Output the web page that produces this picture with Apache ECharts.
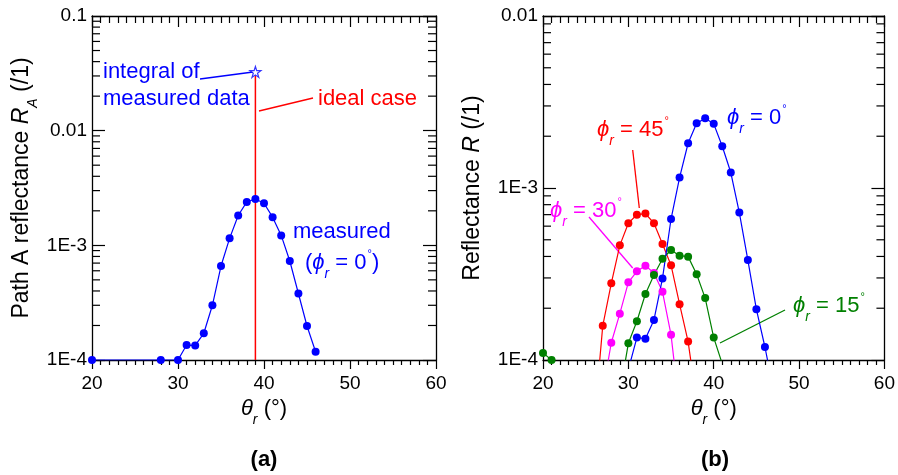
<!DOCTYPE html>
<html lang="en">
<head>
    <meta charset="UTF-8">
    <title>Path A reflectance</title>
    <script src="https://cdn.jsdelivr.net/npm/echarts@6/dist/echarts.min.js"></script>
    <style>
        *{
            padding: 0;
            margin: 0;
        }
        #chart{
            width: 898px;
            height: 475px;
            background: #ffffff;
        }
    </style>
</head>
<body>
<div id="chart"></div>
<script>
    // ---- data ----
    // (a) measured path A reflectance, phi_r = 0
    var thetaA = [20, 28, 30, 31, 32, 33, 34, 35, 36, 37, 38, 39, 40, 41, 42, 43, 44, 45, 46];
    var measA = [1e-4, 1e-4, 1e-4, 1.35e-4, 1.34e-4, 1.71e-4, 3.0e-4, 6.6e-4, 1.15e-3, 1.82e-3, 2.39e-3, 2.54e-3,
        2.33e-3, 1.76e-3, 1.22e-3, 7.3e-4, 3.8e-4, 1.98e-4, 1.18e-4];
    // ideal case line and integral star
    var idealTheta = [39, 39];
    var idealVal = [1e-4, 0.030];
    var integralTheta = [39];
    var integralVal = [0.0325];

    // (b) reflectance for each phi_r
    var theta0 = [30, 31, 32, 33, 34, 35, 36, 37, 38, 39, 40, 41, 42, 43, 44, 45, 46, 47];
    var phi0 = [8.8e-5, 1.35e-4, 1.33e-4, 1.71e-4, 2.98e-4, 6.6e-4, 1.15e-3, 1.82e-3, 2.38e-3, 2.54e-3,
        2.36e-3, 1.75e-3, 1.23e-3, 7.2e-4, 3.81e-4, 1.97e-4, 1.19e-4, 6.7e-5];
    var theta45 = [26, 27, 28, 29, 30, 31, 32, 33, 34, 35, 36, 37, 38];
    var phi45 = [4.3e-5, 1.58e-4, 2.79e-4, 4.64e-4, 6.24e-4, 7.0e-4, 7.1e-4, 6.24e-4, 4.72e-4, 3.56e-4, 2.11e-4, 1.28e-4, 5.7e-5];
    var theta30 = [27, 28, 29, 30, 31, 32, 33, 34, 35, 36];
    var phi30 = [6.5e-5, 1.26e-4, 1.86e-4, 2.83e-4, 3.28e-4, 3.53e-4, 3.21e-4, 2.49e-4, 1.40e-4, 5.2e-5];
    var theta15 = [20, 21, 29, 30, 31, 32, 33, 34, 35, 36, 37, 38, 39, 40, 41];
    var phi15 = [1.1e-4, 1.0e-4, 6.4e-5, 1.25e-4, 1.68e-4, 2.42e-4, 3.12e-4, 3.88e-4, 4.36e-4, 4.04e-4, 3.99e-4,
        3.15e-4, 2.29e-4, 1.35e-4, 9.5e-5];

    // tick labels
    var yTickExp = [-1, -2, -3, -4];
    var yTickText = ['0.1', '0.01', '1E-3', '1E-4'];

    var FONT = '"Liberation Sans", Arial, Helvetica, sans-serif';
    var BLUE = '#0000ff', RED = '#ff0000', MAG = '#ff00ff', GREEN = '#008000';

    function pairs(xs, ys) {
        return xs.map(function (x, i) { return [x, ys[i]]; });
    }

    // log minor tick positions 2..9 in each decade
    function minorTicks(lo, hi) {
        var out = [];
        for (var e = lo; e < hi; e++) {
            for (var m = 2; m <= 9; m++) out.push([20, m * Math.pow(10, e)]);
        }
        return out;
    }

    function yLabel(v) {
        var e = Math.round(Math.log10(v));
        var i = yTickExp.indexOf(e);
        return i >= 0 ? yTickText[i] : '';
    }

    // rich styles, key = 'color' for axis names, 'fill' for graphic texts
    function rich(col, key, size) {
        size = size || 22;
        function st(o) { o[key] = col; o.fontFamily = FONT; return o; }
        return {
            i: st({fontSize: size, fontStyle: 'italic', lineHeight: 36}),
            s: st({fontSize: 14, fontStyle: 'italic', lineHeight: 14, verticalAlign: 'bottom'}),
            n: st({fontSize: size, lineHeight: 36}),
            d: st({fontSize: 11, lineHeight: 11, verticalAlign: 'top', padding: [3, 0, 0, 1]})
        };
    }

    function xAx(grid, top) {
        return {
            type: 'value', gridIndex: grid, position: top ? 'top' : 'bottom',
            min: 20, max: 60, interval: 10, z: 3,
            axisLine: {show: true, onZero: false, lineStyle: {color: '#000', width: 1.3}},
            axisTick: {show: true, inside: top, length: top ? 11 : 9, lineStyle: {color: '#000', width: 1.2}},
            minorTick: {show: true, splitNumber: 10, length: top ? 7 : 5, lineStyle: {color: '#000', width: 1.2}},
            axisLabel: {show: !top, margin: 14, fontSize: 19, fontFamily: FONT, color: '#000'},
            splitLine: {show: false},
            name: top ? '' : '{i|θ}{s|r}{n| (°)}',
            nameLocation: 'middle', nameGap: 31,
            nameTextStyle: {rich: rich('#000', 'color')}
        };
    }

    function yAx(grid, right, max, title) {
        return {
            type: 'log', logBase: 10, gridIndex: grid, position: right ? 'right' : 'left',
            min: 1e-4, max: max,
            axisLine: {show: true, onZero: false, lineStyle: {color: '#000', width: 1.3}},
            axisTick: {show: true, inside: true, length: 13, lineStyle: {color: '#000', width: 1.2}},
            axisLabel: {show: !right, margin: 5, fontSize: 19, fontFamily: FONT, color: '#000',
                formatter: yLabel, showMinLabel: true, showMaxLabel: true},
            splitLine: {show: false},
            name: right ? '' : title,
            nameLocation: 'middle', nameGap: 52, nameRotate: 90,
            nameTextStyle: {rich: rich('#000', 'color', 23)}
        };
    }

    function minorSeries(xi, yi, hiExp) {
        return {
            type: 'custom', xAxisIndex: xi, yAxisIndex: yi, silent: true,
            data: minorTicks(-4, hiExp), encode: {x: 0, y: 1},
            renderItem: function (params, api) {
                var y = api.coord([api.value(0), api.value(1)])[1];
                var cs = params.coordSys;
                var st = {stroke: '#000', lineWidth: 1.2};
                return {
                    type: 'group', children: [
                        {type: 'line', shape: {x1: cs.x, y1: y, x2: cs.x + 8, y2: y}, style: st},
                        {type: 'line', shape: {x1: cs.x + cs.width - 8, y1: y, x2: cs.x + cs.width, y2: y}, style: st}
                    ]
                };
            }
        };
    }

    function lineSeries(xi, yi, data, col) {
        return {
            type: 'line', xAxisIndex: xi, yAxisIndex: yi, data: data, clip: true,
            symbol: 'circle', symbolSize: 8, showAllSymbol: true,
            lineStyle: {color: col, width: 1.2}, itemStyle: {color: col}
        };
    }

    function txt(x, y, text, col, extra) {
        var o = {type: 'text', x: x, y: y, style: {text: text, fill: col, fontFamily: FONT, fontSize: 22,
            align: 'left', verticalAlign: 'middle', rich: rich(col, 'fill')}};
        if (extra) for (var k in extra) o.style[k] = extra[k];
        return o;
    }

    function seg(x1, y1, x2, y2, col) {
        return {type: 'line', shape: {x1: x1, y1: y1, x2: x2, y2: y2}, style: {stroke: col, lineWidth: 1.3}};
    }

    var STAR = 'path://M50,0 L61.8,35.4 L100,35.4 L69.1,57.3 L80.9,93.1 L50,71.2 L19.1,93.1 L30.9,57.3 L0,35.4 L38.2,35.4 Z';

    var my_chart = echarts.init(document.getElementById('chart'));
    my_chart.setOption({
        animation: false,
        backgroundColor: '#ffffff',
        grid: [
            {left: 92, top: 16, width: 344, height: 344},
            {left: 543, top: 16, width: 343, height: 344}
        ],
        xAxis: [xAx(0, false), xAx(0, true), xAx(1, false), xAx(1, true)],
        yAxis: [
            yAx(0, false, 0.1, '{n|Path A reflectance }{i|R}{s|A}{n| (/1)}'),
            yAx(0, true, 0.1, ''),
            yAx(1, false, 0.01, '{n|Reflectance }{i|R}{n| (/1)}'),
            yAx(1, true, 0.01, '')
        ],
        series: [
            minorSeries(0, 0, -1),
            minorSeries(2, 2, -2),
            // (a)
            {
                type: 'line', xAxisIndex: 0, yAxisIndex: 0, data: pairs(idealTheta, idealVal),
                symbol: 'none', lineStyle: {color: RED, width: 1.5}
            },
            lineSeries(0, 0, pairs(thetaA, measA), BLUE),
            {
                type: 'scatter', xAxisIndex: 0, yAxisIndex: 0, data: pairs(integralTheta, integralVal),
                symbol: STAR, symbolSize: 11,
                itemStyle: {color: '#ffffff', borderColor: BLUE, borderWidth: 1.2}
            },
            // (b)
            lineSeries(2, 2, pairs(theta45, phi45), RED),
            lineSeries(2, 2, pairs(theta30, phi30), MAG),
            lineSeries(2, 2, pairs(theta15, phi15), GREEN),
            lineSeries(2, 2, pairs(theta0, phi0), BLUE)
        ],
        graphic: [
            // (a) annotations
            txt(103, 72, 'integral of', BLUE),
            txt(103, 99, 'measured data', BLUE),
            seg(200, 79, 253, 72, BLUE),
            txt(318, 99, 'ideal case', RED),
            seg(259, 111, 313, 98, RED),
            txt(293, 232, 'measured', BLUE),
            txt(305, 263, '{n|(}{i|ϕ}{s|r}{n| = 0}{d|°}{n|)}', BLUE),
            // (b) annotations
            txt(727, 118, '{i|ϕ}{s|r}{n| = 0}{d|°}', BLUE),
            txt(597, 130, '{i|ϕ}{s|r}{n| = 45}{d|°}', RED),
            seg(632.7, 150, 639.3, 208, RED),
            txt(550, 211, '{i|ϕ}{s|r}{n| = 30}{d|°}', MAG),
            seg(589, 217, 632.7, 268, MAG),
            txt(793, 306, '{i|ϕ}{s|r}{n| = 15}{d|°}', GREEN),
            seg(720, 343, 785, 310, GREEN),
            // panel letters
            txt(264, 460, '(a)', '#000', {align: 'center', fontWeight: 'bold', rich: null}),
            txt(715, 460, '(b)', '#000', {align: 'center', fontWeight: 'bold', rich: null})
        ]
    });
</script>
</body>
</html>
